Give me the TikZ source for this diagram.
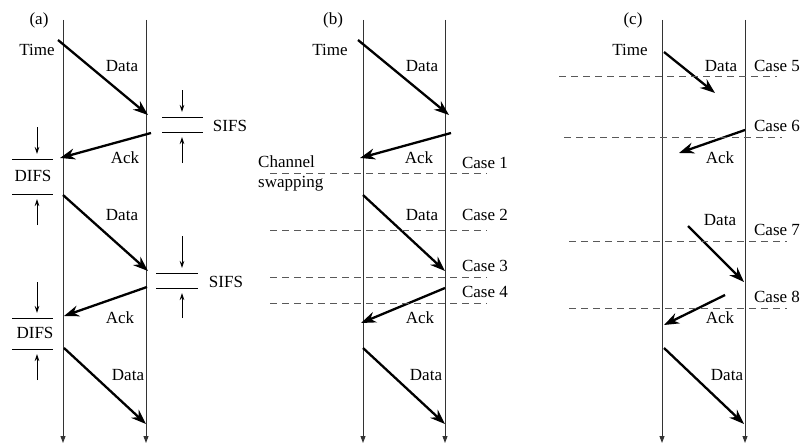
\documentclass[tikz,border=0pt]{standalone}
\usepackage{fontspec}
\setmainfont{Liberation Serif}
\usetikzlibrary{arrows.meta}
\begin{document}
\begin{tikzpicture}[x=1pt,y=-1pt,
  lane/.style={draw=black!80, line width=0.9pt, -{Triangle[length=7pt,width=5pt]}},
  msg/.style={line width=2.3pt, -{Stealth[length=15pt,width=11pt]}},
  gapline/.style={line width=0.8pt},
  gaparrow/.style={line width=0.8pt, -{Stealth[length=7pt,width=4.5pt]}},
  caseline/.style={draw=black!65, line width=0.9pt, dash pattern=on 7pt off 5pt},
  lbl/.style={inner sep=0pt, font=\fontsize{17}{20}\selectfont}]
\useasboundingbox (0,0) rectangle (810,444);

% ---------- time lines ----------
\foreach \nm/\x in {aL/63, aR/146, bL/363, bR/445, cL/662, cR/745}{
  \coordinate (\nm top) at (\x,20);
  \coordinate (\nm bot) at (\x,443);
  \draw[lane] (\nm top) -- (\nm bot);
}

% ---------- panel (a) ----------
\node[lbl] (alab) at (39,20) {(a)};
\node[lbl] (atime) at (37,50) {Time};
\coordinate (a1s) at (58,40);   \coordinate (a1e) at (148,115);
\coordinate (a2s) at (151,133); \coordinate (a2e) at (60,158);
\coordinate (a3s) at (63,195);  \coordinate (a3e) at (148,271);
\coordinate (a4s) at (147,287); \coordinate (a4e) at (64,316);
\coordinate (a5s) at (64,348);  \coordinate (a5e) at (146,424);
\draw[msg] (a1s) -- (a1e);
\draw[msg] (a2s) -- (a2e);
\draw[msg] (a3s) -- (a3e);
\draw[msg] (a4s) -- (a4e);
\draw[msg] (a5s) -- (a5e);
\node[lbl] (ad1) at (122,66) {Data};
\node[lbl] (aa1) at (125,158) {Ack};
\node[lbl] (ad2) at (122,215) {Data};
\node[lbl] (aa2) at (120,318) {Ack};
\node[lbl] (ad3) at (128,375) {Data};

% SIFS marks
\coordinate (s1a) at (162,117); \coordinate (s1b) at (203,117);
\coordinate (s1c) at (162,132); \coordinate (s1d) at (203,132);
\draw[gapline] (s1a) -- (s1b);
\draw[gapline] (s1c) -- (s1d);
\coordinate (s1dn) at (182,90);  \coordinate (s1dt) at (182,112);
\coordinate (s1un) at (182,163); \coordinate (s1ut) at (182,137);
\draw[gaparrow] (s1dn) -- (s1dt);
\draw[gaparrow] (s1un) -- (s1ut);
\node[lbl] (asifs1) at (230,126) {SIFS};

\coordinate (s2a) at (156,273); \coordinate (s2b) at (198,273);
\coordinate (s2c) at (156,288); \coordinate (s2d) at (198,288);
\draw[gapline] (s2a) -- (s2b);
\draw[gapline] (s2c) -- (s2d);
\coordinate (s2dn) at (182,236); \coordinate (s2dt) at (182,268);
\coordinate (s2un) at (182,318); \coordinate (s2ut) at (182,293);
\draw[gaparrow] (s2dn) -- (s2dt);
\draw[gaparrow] (s2un) -- (s2ut);
\node[lbl] (asifs2) at (226,282) {SIFS};

% DIFS marks
\coordinate (d1a) at (12,159); \coordinate (d1b) at (53,159);
\coordinate (d1c) at (12,194); \coordinate (d1d) at (53,194);
\draw[gapline] (d1a) -- (d1b);
\draw[gapline] (d1c) -- (d1d);
\coordinate (d1dn) at (37,127); \coordinate (d1dt) at (37,154);
\coordinate (d1un) at (37,225); \coordinate (d1ut) at (37,199);
\draw[gaparrow] (d1dn) -- (d1dt);
\draw[gaparrow] (d1un) -- (d1ut);
\node[lbl] (adifs1) at (33,176) {DIFS};

\coordinate (d2a) at (12,318); \coordinate (d2b) at (53,318);
\coordinate (d2c) at (12,349); \coordinate (d2d) at (53,349);
\draw[gapline] (d2a) -- (d2b);
\draw[gapline] (d2c) -- (d2d);
\coordinate (d2dn) at (37,282); \coordinate (d2dt) at (37,313);
\coordinate (d2un) at (37,380); \coordinate (d2ut) at (37,354);
\draw[gaparrow] (d2dn) -- (d2dt);
\draw[gaparrow] (d2un) -- (d2ut);
\node[lbl] (adifs2) at (35,333) {DIFS};

% ---------- panel (b) ----------
\node[lbl] (blab) at (333,20) {(b)};
\node[lbl] (btime) at (330,50) {Time};
\coordinate (b1s) at (358,40);  \coordinate (b1e) at (449,115);
\coordinate (b2s) at (451,133); \coordinate (b2e) at (360,158);
\coordinate (b3s) at (363,195); \coordinate (b3e) at (445,271);
\coordinate (b4s) at (445,288); \coordinate (b4e) at (361,323);
\coordinate (b5s) at (363,348); \coordinate (b5e) at (445,424);
\draw[msg] (b1s) -- (b1e);
\draw[msg] (b2s) -- (b2e);
\draw[msg] (b3s) -- (b3e);
\draw[msg] (b4s) -- (b4e);
\draw[msg] (b5s) -- (b5e);
\node[lbl] (bd1) at (422,66) {Data};
\node[lbl] (ba1) at (419,158) {Ack};
\node[lbl] (bd2) at (422,215) {Data};
\node[lbl] (ba2) at (420,318) {Ack};
\node[lbl] (bd3) at (426,375) {Data};
\node[lbl, anchor=west, align=left] (bswap) at (258,173) {Channel\\swapping};

\foreach \nm/\y in {k1/173, k2/230, k3/277, k4/303}{
  \coordinate (\nm w) at (270,\y);
  \coordinate (\nm e) at (487,\y);
  \draw[caseline] (\nm w) -- (\nm e);
}
\node[lbl] (bc1) at (485,163) {Case 1};
\node[lbl] (bc2) at (485,215) {Case 2};
\node[lbl] (bc3) at (485,266) {Case 3};
\node[lbl] (bc4) at (485,292) {Case 4};

% ---------- panel (c) ----------
\node[lbl] (clab) at (633,20) {(c)};
\node[lbl] (ctime) at (630,50) {Time};
\coordinate (c1s) at (664,52);  \coordinate (c1e) at (715,93);
\coordinate (c2s) at (745,130); \coordinate (c2e) at (679,153);
\coordinate (c3s) at (688,226); \coordinate (c3e) at (744,282);
\coordinate (c4s) at (725,295); \coordinate (c4e) at (664,325);
\coordinate (c5s) at (664,348); \coordinate (c5e) at (744,424);
\draw[msg] (c1s) -- (c1e);
\draw[msg] (c2s) -- (c2e);
\draw[msg] (c3s) -- (c3e);
\draw[msg] (c4s) -- (c4e);
\draw[msg] (c5s) -- (c5e);
\node[lbl] (cd1) at (721,66) {Data};
\node[lbl] (ca1) at (720,158) {Ack};
\node[lbl] (cd2) at (720,220) {Data};
\node[lbl] (ca2) at (720,318) {Ack};
\node[lbl] (cd3) at (727,375) {Data};

\coordinate (k5w) at (559,76);  \coordinate (k5e) at (777,76);
\coordinate (k6w) at (564,137); \coordinate (k6e) at (782,137);
\coordinate (k7w) at (569,241); \coordinate (k7e) at (787,241);
\coordinate (k8w) at (569,308); \coordinate (k8e) at (787,308);
\draw[caseline] (k5w) -- (k5e);
\draw[caseline] (k6w) -- (k6e);
\draw[caseline] (k7w) -- (k7e);
\draw[caseline] (k8w) -- (k8e);
\node[lbl] (cc5) at (777,66) {Case 5};
\node[lbl] (cc6) at (777,126) {Case 6};
\node[lbl] (cc7) at (777,230) {Case 7};
\node[lbl] (cc8) at (777,297) {Case 8};
\end{tikzpicture}
\end{document}
